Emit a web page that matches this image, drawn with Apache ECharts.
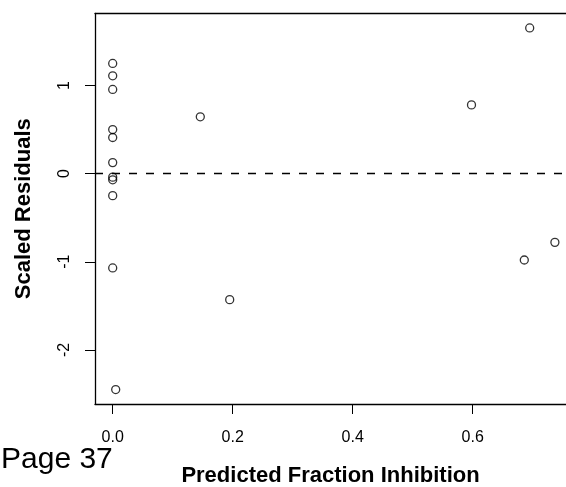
<!DOCTYPE html>
<html>
<head>
<meta charset="utf-8">
<script src="https://cdn.jsdelivr.net/npm/echarts@6/dist/echarts.min.js"></script>
<style>
html,body{margin:0;padding:0;background:#fff;}
#chart{width:566px;height:487px;}
</style>
</head>
<body>
<div id="chart"></div>
<script>
var predicted = [0.0, 0.0, 0.0, 0.0, 0.0, 0.0, 0.0, 0.0, 0.0, 0.0, 0.005, 0.146, 0.195, 0.598, 0.686, 0.695, 0.737];
var residuals = [1.25, 1.11, 0.955, 0.50, 0.41, 0.125, -0.04, -0.07, -0.25, -1.07, -2.45, 0.645, -1.43, 0.78, -0.98, 1.653, -0.78];
var xTicks = [0, 0.2, 0.4, 0.6];
var yTicks = [-2, -1, 0, 1];
var xTitle = 'Predicted Fraction Inhibition';
var yTitle = 'Scaled Residuals';
var pageLabel = 'Page 37';

var points = predicted.map(function (v, i) { return [v, residuals[i]]; });

var chart = echarts.init(document.getElementById('chart'), null, {renderer: 'canvas'});
var font = 'Liberation Sans, Arial, sans-serif';
var lineCol = {color: '#000', width: 1.3};
chart.setOption({
  animation: false,
  backgroundColor: '#fff',
  grid: {left: 95, top: 13.5, right: 0, bottom: 83, show: false, containLabel: false, outerBoundsMode: 'none'},
  xAxis: [{
    type: 'value',
    min: -0.0295, max: 0.7555,
    position: 'bottom',
    name: xTitle,
    nameLocation: 'middle',
    nameGap: 61,
    nameTextStyle: {fontFamily: font, fontWeight: 'bold', fontSize: 22, color: '#000'},
    axisLine: {show: true, onZero: false, lineStyle: lineCol},
    splitLine: {show: false},
    axisTick: {show: true, length: 10, lineStyle: {color: '#000', width: 1}, customValues: xTicks},
    axisLabel: {
      customValues: xTicks, margin: 26, color: '#000', fontFamily: font, fontSize: 16,
      formatter: function (v) { return v.toFixed(1); }
    }
  }, {
    type: 'value',
    min: -0.0295, max: 0.7555,
    position: 'top',
    axisLine: {show: true, onZero: false, lineStyle: lineCol},
    axisTick: {show: false},
    axisLabel: {show: false},
    splitLine: {show: false}
  }],
  yAxis: {
    type: 'value',
    min: -2.614, max: 1.817,
    name: yTitle,
    nameLocation: 'middle',
    nameGap: 60,
    nameTextStyle: {fontFamily: font, fontWeight: 'bold', fontSize: 22, color: '#000'},
    axisLine: {show: true, onZero: false, lineStyle: lineCol},
    splitLine: {show: false},
    axisTick: {show: true, length: 10, lineStyle: {color: '#000', width: 1}, customValues: yTicks},
    axisLabel: {
      customValues: yTicks, margin: 22, rotate: 90, color: '#000', fontFamily: font, fontSize: 16,
      formatter: function (v) { return String(v); }
    }
  },
  graphic: [{
    type: 'text', left: 1, top: 445,
    style: {text: pageLabel, font: '30px Liberation Sans, Arial, sans-serif', fill: '#000'}
  }],
  series: [{
    type: 'scatter',
    data: points,
    symbol: 'circle',
    symbolSize: 8,
    itemStyle: {color: 'transparent', borderColor: '#000', borderWidth: 1.3},
    emphasis: {disabled: true},
    markLine: {
      silent: true,
      symbol: ['none', 'none'],
      label: {show: false},
      lineStyle: {color: '#000', type: [8, 9], width: 1.3},
      data: [{yAxis: 0}]
    }
  }]
});
</script>
</body>
</html>
